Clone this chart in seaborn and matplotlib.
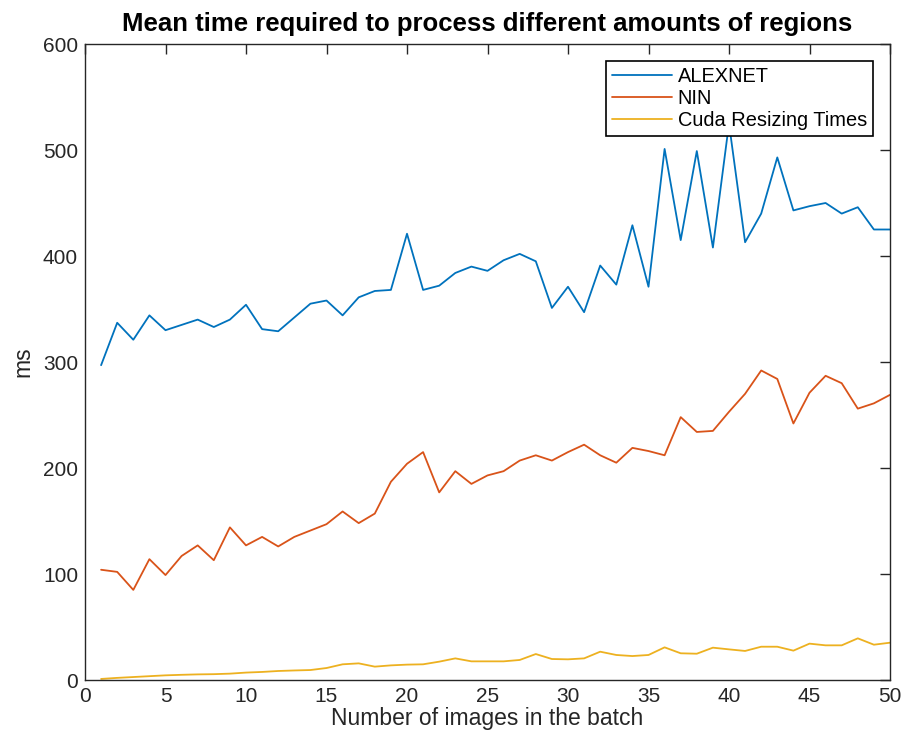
import numpy as np
import pandas as pd
import matplotlib
matplotlib.use("Agg")
import matplotlib.pyplot as plt
import seaborn as sns

batch = list(range(1, 51))
alexnet = [297, 337, 321, 344, 330, 335, 340, 333, 340, 354,
           331, 329, 342, 355, 358, 344, 361, 367, 368, 421,
           368, 372, 384, 390, 386, 396, 402, 395, 351, 371,
           347, 391, 373, 429, 371, 501, 415, 499, 408, 525,
           413, 440, 493, 443, 447, 450, 440, 446, 425, 425]
nin = [104, 102, 85, 114, 99, 117, 127, 113, 144, 127,
       135, 126, 135, 141, 147, 159, 148, 157, 187, 204,
       215, 177, 197, 185, 193, 197, 207, 212, 207, 215,
       222, 212, 205, 219, 216, 212, 248, 234, 235, 253,
       270, 292, 284, 242, 271, 287, 280, 256, 261, 269]
cuda = [1, 2, 2.8, 3.6, 4.4, 4.9, 5.3, 5.5, 6, 7,
        7.6, 8.5, 9, 9.4, 11.3, 14.8, 15.7, 12.6, 13.8, 14.5,
        14.8, 17.3, 20.4, 17.6, 17.6, 17.6, 18.9, 24.5, 19.8, 19.5,
        20.4, 26.7, 23.6, 22.6, 23.6, 30.8, 25.2, 24.8, 30.5, 28.9,
        27.4, 31.4, 31.4, 27.7, 34.3, 32.7, 32.7, 39.3, 33.3, 35.2]
series_names = ["ALEXNET", "NIN", "Cuda Resizing Times"]
colors = ["#0072BD", "#D95319", "#EDB120"]

df = pd.DataFrame({
    "x": batch * 3,
    "ms": alexnet + nin + cuda,
    "series": [series_names[0]] * 50 + [series_names[1]] * 50 + [series_names[2]] * 50,
})

sns.set_style("white")
plt.rcParams["font.family"] = ["Liberation Sans", "DejaVu Sans"]

fig = plt.figure(figsize=(9.06, 7.4), dpi=100)
ax = fig.add_axes([85 / 906, 1 - 680 / 740, (890 - 85) / 906, (680 - 44) / 740])

sns.lineplot(data=df, x="x", y="ms", hue="series", palette=colors,
             hue_order=series_names, ax=ax, linewidth=1.3, legend=True)

ax.set_xlim(0, 50)
ax.set_ylim(0, 600)
ax.set_xticks(range(0, 51, 5))
ax.set_yticks(range(0, 601, 100))
ax.tick_params(direction="in", length=7, width=1, labelsize=15, colors="#262626",
               top=True, right=True, pad=5)
for s in ax.spines.values():
    s.set_color("#262626")
    s.set_linewidth(1.0)
ax.set_xlabel("Number of images in the batch", fontsize=16.5, color="#262626", labelpad=1)
ax.set_ylabel("ms", fontsize=16.5, color="#262626", labelpad=6)
ax.set_title("Mean time required to process different amounts of regions",
             fontsize=18.5, fontweight="bold", pad=9, color="black")

leg = ax.legend(loc="upper right", bbox_to_anchor=((873 - 85) / 805, (680 - 61) / 636),
                fontsize=14.4, frameon=True, fancybox=False, framealpha=1,
                edgecolor="black", borderpad=0.3, handlelength=3.0,
                handletextpad=0.3, labelspacing=0.15, borderaxespad=0.0)
leg.get_frame().set_linewidth(1.2)
for t in leg.get_texts():
    t.set_color("black")

fig.savefig("out.png", dpi=100)
